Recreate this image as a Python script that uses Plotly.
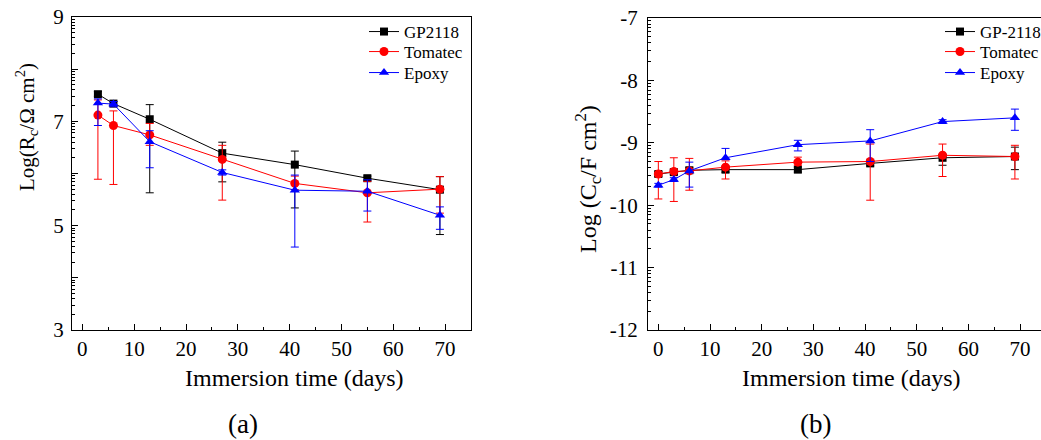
import math
import plotly.graph_objects as go

# ---------------- data ----------------
days_a = [3, 6, 13, 27, 41, 55, 69]
gp_a = [7.52, 7.34, 7.04, 6.39, 6.17, 5.91, 5.69]
gp_a_plus = [0.05, 0.04, 0.28, 0.21, 0.26, 0.04, 0.25]
gp_a_minus = [0.04, 0.04, 1.41, 0.55, 0.83, 0.04, 0.86]
tom_a = [7.12, 6.92, 6.74, 6.27, 5.81, 5.63, 5.70]
tom_a_plus = [0.29, 0.28, 0.22, 0.27, 0.14, 0.22, 0.24]
tom_a_minus = [1.23, 1.13, 0.20, 0.78, 0.12, 0.56, 0.46]
epo_a = [7.35, 7.33, 6.61, 6.02, 5.68, 5.66, 5.20]
epo_a_plus = [0.08, 0.05, 0.21, 0.05, 0.29, 0.22, 0.16]
epo_a_minus = [0.43, 0.05, 0.50, 0.05, 1.09, 0.38, 0.27]

days_b = [0, 3, 6, 13, 27, 41, 55, 69]
gp_b = [-9.50, -9.47, -9.44, -9.43, -9.43, -9.33, -9.24, -9.22]
gp_b_plus = [0.04, 0.04, 0.04, 0.04, 0.04, 0.04, 0.05, 0.15]
gp_b_minus = [0.04, 0.04, 0.04, 0.04, 0.04, 0.04, 0.12, 0.21]
tom_b = [-9.50, -9.46, -9.45, -9.39, -9.31, -9.30, -9.20, -9.22]
tom_b_plus = [0.20, 0.22, 0.20, 0.10, 0.08, 0.28, 0.18, 0.18]
tom_b_minus = [0.40, 0.48, 0.31, 0.19, 0.05, 0.62, 0.34, 0.36]
epo_b = [-9.68, -9.59, -9.45, -9.24, -9.03, -8.97, -8.66, -8.60]
epo_b_plus = [0.03, 0.03, 0.14, 0.15, 0.07, 0.18, 0.03, 0.14]
epo_b_minus = [0.03, 0.03, 0.26, 0.03, 0.10, 0.33, 0.03, 0.20]

ya_ticks = [3, 4, 5, 6, 7, 8, 9]
ya_labels = ["3", "", "5", "", "7", "", "9"]
yb_ticks = [-12, -11, -10, -9, -8, -7]
yb_labels = ["-12", "-11", "-10", "-9", "-8", "-7"]
x_ticks = [0, 10, 20, 30, 40, 50, 60, 70]

FONT = "Liberation Serif, 'Times New Roman', Times, serif"
W, H = 1041, 440


def minor_log(lo, hi):
    out = []
    for n in range(lo, hi):
        for k in range(2, 10):
            out.append(n + math.log10(k))
    return out


def err(plus, minus, color):
    return dict(type="data", symmetric=False, array=plus, arrayminus=minus,
                color=color, thickness=1, width=4)


fig = go.Figure()

legend_rows = [32, 52, 73]

series_a = [
    ("GP2118", gp_a, gp_a_plus, gp_a_minus, "black", "square", 8),
    ("Tomatec", tom_a, tom_a_plus, tom_a_minus, "#ff0000", "circle", 9),
    ("Epoxy", epo_a, epo_a_plus, epo_a_minus, "#0000ff", "triangle-up", 9),
]
series_b = [
    ("GP-2118", gp_b, gp_b_plus, gp_b_minus, "black", "square", 8),
    ("Tomatec", tom_b, tom_b_plus, tom_b_minus, "#ff0000", "circle", 9),
    ("Epoxy", epo_b, epo_b_plus, epo_b_minus, "#0000ff", "triangle-up", 9),
]

legend_layouts = {}
lg_index = 1
for days, series, xa, ya, lx in [(days_a, series_a, "x", "y", 364),
                                  (days_b, series_b, "x2", "y2", 940)]:
    for i, (name, y, p, m, c, sym, sz) in enumerate(series):
        lname = "legend" if lg_index == 1 else f"legend{lg_index}"
        fig.add_trace(go.Scatter(
            x=days, y=y, name=name, mode="lines+markers",
            line=dict(color=c, width=1),
            marker=dict(symbol=sym, size=sz, color=c),
            error_y=err(p, m, c), xaxis=xa, yaxis=ya, legend=lname))
        legend_layouts[lname] = dict(
            x=lx / W, y=1 - legend_rows[i] / H, xanchor="left",
            yanchor="middle", bgcolor="rgba(0,0,0,0)",
            font=dict(family=FONT, size=17, color="black"), itemwidth=30,
            borderwidth=0)
        lg_index += 1

tickfont = dict(family=FONT, size=21, color="black")
axcommon = dict(showline=True, linecolor="black", linewidth=1.3, ticks="inside",
                tickcolor="black", tickwidth=1, ticklen=6, showgrid=False,
                zeroline=False, tickfont=tickfont)

fig.update_layout(
    width=W, height=H,
    margin=dict(l=0, r=0, t=0, b=0, pad=0, autoexpand=False),
    paper_bgcolor="white", plot_bgcolor="white",
    font=dict(family=FONT, color="black"),
    xaxis=dict(domain=[72 / W, 471 / W], range=[-2, 75], anchor="y",
               tickmode="array", tickvals=x_ticks, mirror=True,
               ticklabelstandoff=0,
               minor=dict(dtick=5, tick0=0, ticks="inside", ticklen=3,
                          tickcolor="black"), **axcommon),
    yaxis=dict(domain=[1 - 330 / H, 1 - 17 / H], range=[3, 9], anchor="x",
               tickmode="array", tickvals=ya_ticks, ticktext=ya_labels,
               mirror=True, ticklabelstandoff=3,
               minor=dict(tickmode="array", tickvals=minor_log(3, 9),
                          ticks="inside", ticklen=3, tickcolor="black"),
               **axcommon),
    xaxis2=dict(domain=[648 / W, 1.0], range=[-2, 74.05], anchor="y2",
                tickmode="array", tickvals=x_ticks, mirror=True,
                ticklabelstandoff=0,
                minor=dict(dtick=5, tick0=0, ticks="inside", ticklen=3,
                           tickcolor="black"), **axcommon),
    yaxis2=dict(domain=[1 - 330 / H, 1 - 18 / H], range=[-12, -7], anchor="x2",
                tickmode="array", tickvals=yb_ticks, ticktext=yb_labels,
                mirror=False, ticklabelstandoff=5,
                minor=dict(tickmode="array", tickvals=minor_log(-12, -7),
                           ticks="inside", ticklen=3, tickcolor="black"),
                **axcommon),
    showlegend=True,
    **legend_layouts,
)

common_ann = dict(xref="paper", yref="paper", showarrow=False,
                  xanchor="center", yanchor="middle")
fig.add_annotation(text="Immersion time (days)", x=294 / W, y=1 - 378 / H,
                   font=dict(family=FONT, size=24, color="black"), **common_ann)
fig.add_annotation(text="Immersion time (days)", x=851 / W, y=1 - 378 / H,
                   font=dict(family=FONT, size=24, color="black"), **common_ann)
fig.add_annotation(text="(a)", x=243 / W, y=1 - 424 / H,
                   font=dict(family=FONT, size=27, color="black"), **common_ann)
fig.add_annotation(text="(b)", x=815 / W, y=1 - 424 / H,
                   font=dict(family=FONT, size=27, color="black"), **common_ann)
fig.add_annotation(text="Log(R<sub>c</sub>/Ω cm<sup>2</sup>)", x=27 / W,
                   y=1 - 127 / H, textangle=-90,
                   font=dict(family=FONT, size=21, color="black"), **common_ann)
fig.add_annotation(text="Log (C<sub>c</sub>/F cm<sup>2</sup>)", x=588 / W,
                   y=1 - 179 / H, textangle=-90,
                   font=dict(family=FONT, size=24, color="black"), **common_ann)

fig.write_html("out.html")
